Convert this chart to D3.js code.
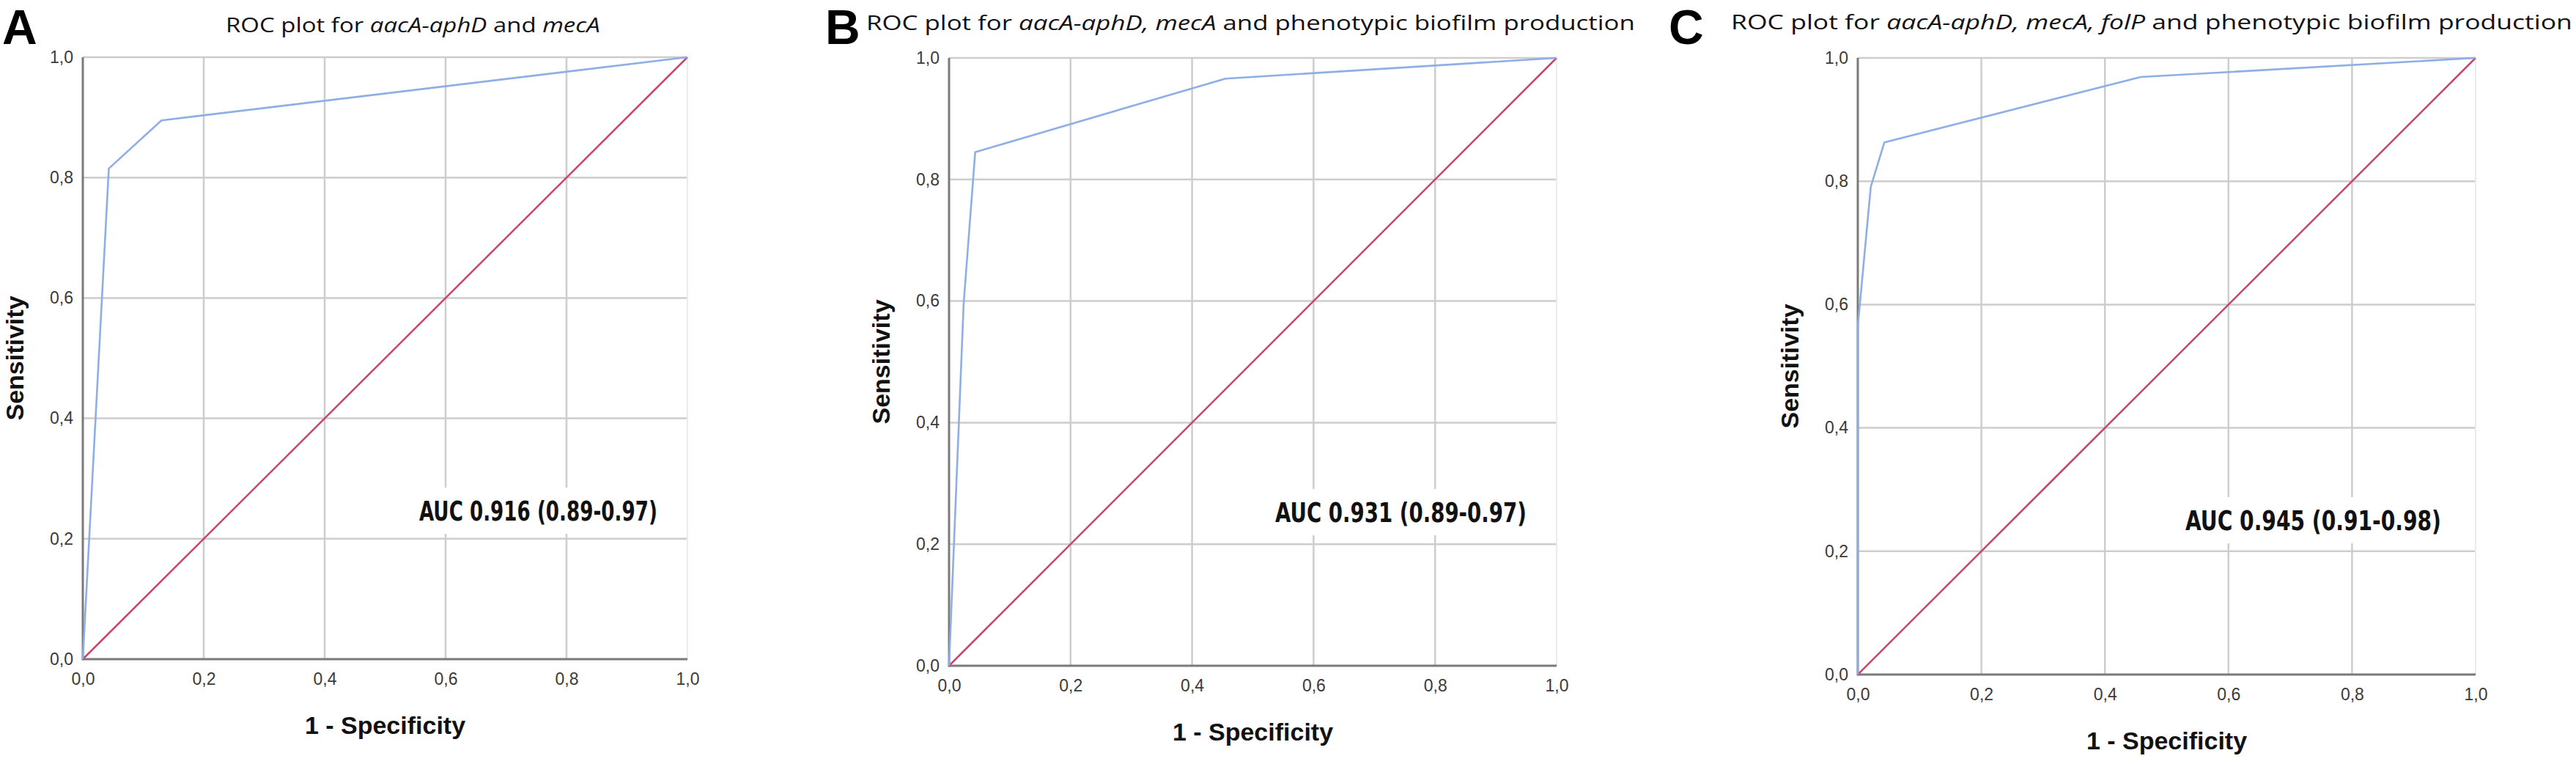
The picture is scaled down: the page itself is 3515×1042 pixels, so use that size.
<!DOCTYPE html>
<html>
<head>
<meta charset="utf-8">
<script src="https://cdn.jsdelivr.net/npm/d3@7"></script>
<style>
  body { margin: 0; background: #fff; }
  svg { display: block; }
</style>
</head>
<body>
<div id="chart"></div>
<script>
// ---- data ----
const panelKeys = ['A', 'B', 'C'];

// blue ROC curves: 1 - specificity (x) and sensitivity (y)
const fprA = [0, 0.043, 0.13, 1];
const tprA = [0, 0.815, 0.895, 1];
const fprB = [0, 0.024, 0.043, 0.455, 1];
const tprB = [0, 0.595, 0.845, 0.966, 1];
const fprC = [0, 0, 0.021, 0.043, 0.458, 1];
const tprC = [0, 0.565, 0.791, 0.863, 0.969, 1];

// reference diagonal
const refX = [0, 1];
const refY = [0, 1];

const tickValues = [0, 0.2, 0.4, 0.6, 0.8, 1.0];

const aucLabels = [
  'AUC 0.916 (0.89-0.97)',
  'AUC 0.931 (0.89-0.97)',
  'AUC 0.945 (0.91-0.98)'
];

// title pieces: [text, italic?]
const titlesA = [['ROC plot for ', false], ['aacA-aphD', true], [' and ', false], ['mecA', true]];
const titlesB = [['ROC plot for ', false], ['aacA-aphD, mecA', true], [' and phenotypic biofilm production', false]];
const titlesC = [['ROC plot for ', false], ['aacA-aphD, mecA, folP', true], [' and phenotypic biofilm production', false]];

const xTitle = '1 - Specificity';
const yTitle = 'Sensitivity';

// ---- layout (pixels) ----
const width = 3515;
const height = 1042;

const layout = [
  { left: 113,  right: 938,  top: 78, bottom: 899, letterX: 3,    titleX0: 308,  titleX1: 819,  titleBase: 44, aucX0: 572,  aucX1: 897,  aucBase: 710 },
  { left: 1295, right: 2124, top: 79, bottom: 908, letterX: 1126, titleX0: 1182, titleX1: 2231, titleBase: 41, aucX0: 1740, aucX1: 2083, aucBase: 712 },
  { left: 2535, right: 3378, top: 79, bottom: 920, letterX: 2277, titleX0: 2362, titleX1: 3510, titleBase: 40, aucX0: 2982, aucX1: 3331, aucBase: 723 }
];

const curves = [
  { x: fprA, y: tprA, title: titlesA },
  { x: fprB, y: tprB, title: titlesB },
  { x: fprC, y: tprC, title: titlesC }
];

const gridColor = '#cdcdcd';
const axisColor = '#7a7a7a';
const rocColor = '#8eaee6';
const refColor = '#c8456c';
const sansFont = '"Liberation Sans", Arial, sans-serif';

const locale = d3.formatLocale({ decimal: ',', thousands: '.', grouping: [3], currency: ['', ''] });
const fmt = locale.format('.1f');

const svg = d3.select('#chart')
  .append('svg')
  .attr('width', width)
  .attr('height', height);

svg.append('rect').attr('width', width).attr('height', height).attr('fill', '#fff');

// squeeze/stretch a text element so it spans x0..x1
function fitText(sel, x0, x1, base) {
  const w = sel.node().getBBox().width;
  const sx = (x1 - x0) / w;
  sel.attr('transform', `translate(${x0},${base}) scale(${sx},1)`);
}

panelKeys.forEach((key, i) => {
  const L = layout[i];
  const c = curves[i];

  const x = d3.scaleLinear().domain([0, 1]).range([L.left, L.right]);
  const y = d3.scaleLinear().domain([0, 1]).range([L.bottom, L.top]);

  const g = svg.append('g');

  // grid
  g.append('g')
    .selectAll('line')
    .data(tickValues.slice(1, -1))
    .join('line')
    .attr('x1', d => x(d)).attr('x2', d => x(d))
    .attr('y1', y(0)).attr('y2', y(1))
    .attr('stroke', gridColor).attr('stroke-width', 2.5);

  g.append('g')
    .selectAll('line')
    .data(tickValues.slice(1))
    .join('line')
    .attr('x1', x(0)).attr('x2', x(1))
    .attr('y1', d => y(d)).attr('y2', d => y(d))
    .attr('stroke', gridColor).attr('stroke-width', 2.5);

  // faint right border
  g.append('line')
    .attr('x1', x(1)).attr('x2', x(1))
    .attr('y1', y(0)).attr('y2', y(1))
    .attr('stroke', '#ebebeb').attr('stroke-width', 2);

  // white patch behind the AUC label
  g.append('rect')
    .attr('x', L.aucX0 - 12).attr('y', L.aucBase - 45)
    .attr('width', L.aucX1 - L.aucX0 + 24).attr('height', 63)
    .attr('fill', '#fff');

  // axis lines
  g.append('line')
    .attr('x1', x(0)).attr('x2', x(0))
    .attr('y1', y(0) + 1.5).attr('y2', y(1))
    .attr('stroke', axisColor).attr('stroke-width', 3);
  g.append('line')
    .attr('x1', x(0)).attr('x2', x(1))
    .attr('y1', y(0)).attr('y2', y(0))
    .attr('stroke', axisColor).attr('stroke-width', 3);

  // tick labels
  const xAxis = g.append('g')
    .attr('transform', `translate(0,${L.bottom})`)
    .call(d3.axisBottom(x).tickValues(tickValues).tickSize(0).tickPadding(19).tickFormat(fmt));
  const yAxis = g.append('g')
    .attr('transform', `translate(${L.left},0)`)
    .call(d3.axisLeft(y).tickValues(tickValues).tickSize(0).tickPadding(13).tickFormat(fmt));
  [xAxis, yAxis].forEach(a => {
    a.select('.domain').remove();
    a.selectAll('text')
      .attr('font-family', sansFont)
      .attr('font-size', 23)
      .attr('fill', '#3a3a3a');
  });

  // lines
  const line = d3.line().x(d => x(d[0])).y(d => y(d[1]));

  g.append('path')
    .datum(d3.zip(refX, refY))
    .attr('d', line)
    .attr('fill', 'none')
    .attr('stroke', refColor)
    .attr('stroke-width', 2.5);

  g.append('path')
    .datum(d3.zip(c.x, c.y))
    .attr('d', line)
    .attr('fill', 'none')
    .attr('stroke', rocColor)
    .attr('stroke-width', 2.6)
    .attr('stroke-linejoin', 'round');

  // axis titles
  g.append('text')
    .attr('x', (L.left + L.right) / 2)
    .attr('y', L.bottom + 102)
    .attr('text-anchor', 'middle')
    .attr('font-family', sansFont)
    .attr('font-weight', 'bold')
    .attr('font-size', 34)
    .attr('fill', '#111')
    .text(xTitle);

  g.append('text')
    .attr('transform', `translate(${L.left - 81},${(L.top + L.bottom) / 2}) rotate(-90)`)
    .attr('text-anchor', 'middle')
    .attr('font-family', sansFont)
    .attr('font-weight', 'bold')
    .attr('font-size', 34)
    .attr('fill', '#111')
    .text(yTitle);

  // AUC label
  const auc = g.append('text')
    .attr('font-family', '"Liberation Sans Narrow", "DejaVu Sans Condensed", sans-serif')
    .attr('font-weight', 'bold')
    .attr('font-size', 37)
    .attr('fill', '#111')
    .text(aucLabels[i]);
  fitText(auc, L.aucX0, L.aucX1, L.aucBase);

  // title
  const title = svg.append('text')
    .attr('font-family', '"Open Sans", sans-serif')
    .attr('font-size', 27)
    .attr('fill', '#111');
  title.selectAll('tspan')
    .data(c.title)
    .join('tspan')
    .attr('font-style', d => d[1] ? 'italic' : 'normal')
    .text(d => d[0]);
  fitText(title, L.titleX0, L.titleX1, L.titleBase);

  // panel letter
  svg.append('text')
    .attr('x', L.letterX)
    .attr('y', 60)
    .attr('font-family', sansFont)
    .attr('font-weight', 'bold')
    .attr('font-size', 66)
    .attr('fill', '#000')
    .text(key);
});
</script>
</body>
</html>
